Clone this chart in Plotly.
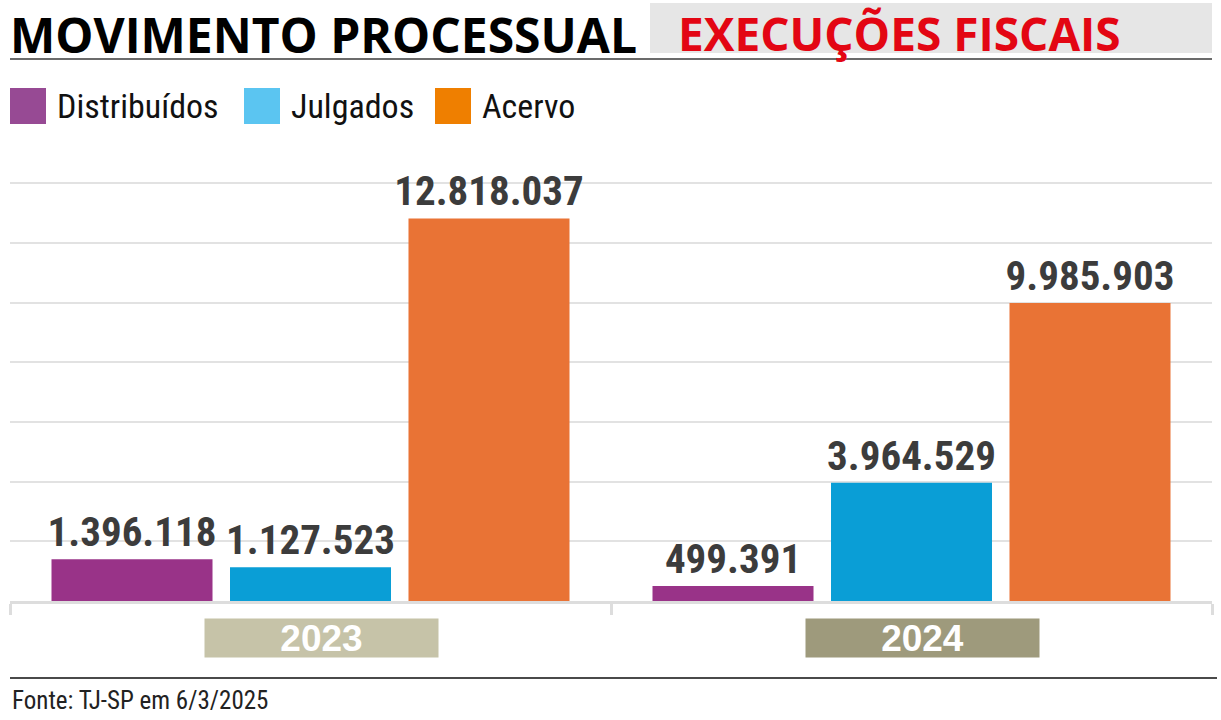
import plotly.graph_objects as go

years = ["2023", "2024"]
series = ["Distribuídos", "Julgados", "Acervo"]
values = {
    "Distribuídos": [1396118, 499391],
    "Julgados": [1127523, 3964529],
    "Acervo": [12818037, 9985903],
}
bar_colors = ["#993388", "#0a9ed6", "#e97335"]
legend_colors = ["#974a94", "#5bc5f1", "#ef7f00"]
year_box_colors = ["#c6c3a8", "#9e9a7c"]
y_ticks = [0, 2e6, 4e6, 6e6, 8e6, 10e6, 12e6, 14e6]

W, H = 1221, 720
L, R, T, B = 10, 1212, 182, 601


def px(x):
    return (x - L) / (R - L)


def py(y):
    return (B - y) / (B - T)


def fmt(v):
    return f"{v:,}".replace(",", ".")


NARROW = "Liberation Sans Narrow, Roboto Condensed, DejaVu Sans Condensed, sans-serif"

fig = go.Figure()
for name, col in zip(series, bar_colors):
    fig.add_trace(go.Bar(
        name=name, x=years, y=values[name], marker_color=col,
        marker_line_width=0,
        text=[fmt(v) for v in values[name]], textposition="outside",
        constraintext="none", cliponaxis=False,
        textfont=dict(family=NARROW, size=41, color="#3c3c3c", weight="bold"),
        showlegend=False,
    ))

shapes = []
annotations = []

# title
annotations.append(dict(xref="paper", yref="paper", x=px(8), y=py(34), xanchor="left",
                        yanchor="middle", text="<b>MOVIMENTO PROCESSUAL</b>", showarrow=False,
                        font=dict(family="Open Sans, Lato, sans-serif", size=48, color="#000000")))
shapes.append(dict(type="rect", xref="paper", yref="paper", x0=px(650), x1=px(1212),
                   y0=py(53), y1=py(3), fillcolor="#e6e6e6", line_width=0, layer="below"))
annotations.append(dict(xref="paper", yref="paper", x=px(676), y=py(33), xanchor="left",
                        yanchor="middle", text="<b>EXECUÇÕES FISCAIS</b>", showarrow=False,
                        font=dict(family="Open Sans, Lato, sans-serif", size=46, color="#e30613")))
shapes.append(dict(type="line", xref="paper", yref="paper", x0=px(10), x1=px(1212),
                   y0=py(59), y1=py(59), line=dict(color="#6b6b6b", width=2)))

# manual legend
leg_x = [10, 244, 435]
for name, col, x0 in zip(series, legend_colors, leg_x):
    shapes.append(dict(type="rect", xref="paper", yref="paper", x0=px(x0), x1=px(x0 + 36),
                       y0=py(124), y1=py(88), fillcolor=col, line_width=0))
    annotations.append(dict(xref="paper", yref="paper", x=px(x0 + 45), y=py(106),
                            xanchor="left", yanchor="middle", text=name, showarrow=False,
                            font=dict(family=NARROW, size=34, color="#111111")))

# year labels (category index positions)
for i, (yr, col) in enumerate(zip(years, year_box_colors)):
    annotations.append(dict(xref="x", yref="paper", x=i, y=0, yanchor="top", yshift=-17,
                            xshift=11,
                            text=f"<b>{yr}</b>", showarrow=False, bgcolor=col,
                            width=233, height=38, borderpad=0,
                            font=dict(family="Liberation Sans, Arial, sans-serif", size=37,
                                      color="#ffffff")))

# footer
shapes.append(dict(type="line", xref="paper", yref="paper", x0=px(10), x1=px(1217),
                   y0=py(678), y1=py(678), line=dict(color="#4a4a4a", width=2)))
annotations.append(dict(xref="paper", yref="paper", x=px(10), y=py(700), xanchor="left",
                        yanchor="middle", text="Fonte: TJ-SP em 6/3/2025", showarrow=False,
                        font=dict(family=NARROW, size=25, color="#222222")))

fig.update_layout(
    width=W, height=H,
    margin=dict(l=L, r=W - R, t=T, b=H - B, pad=0),
    paper_bgcolor="white", plot_bgcolor="white",
    barmode="group", bargap=0.109, bargroupgap=0.098,
    showlegend=False,
    shapes=shapes, annotations=annotations,
    xaxis=dict(type="category", range=[-0.5, 1.5], showticklabels=False,
               tickson="boundaries",
               ticks="outside", ticklen=11, tickwidth=3, tickcolor="#dddddd",
               showline=True, linecolor="#dddddd", linewidth=3, showgrid=False,
               fixedrange=True),
    yaxis=dict(range=[0, 14.04e6], tickvals=y_ticks, showticklabels=False,
               showgrid=True, gridcolor="#e2e2e2", gridwidth=2, zeroline=False,
               showline=False, ticks="", fixedrange=True),
)

fig.write_html("out.html")
